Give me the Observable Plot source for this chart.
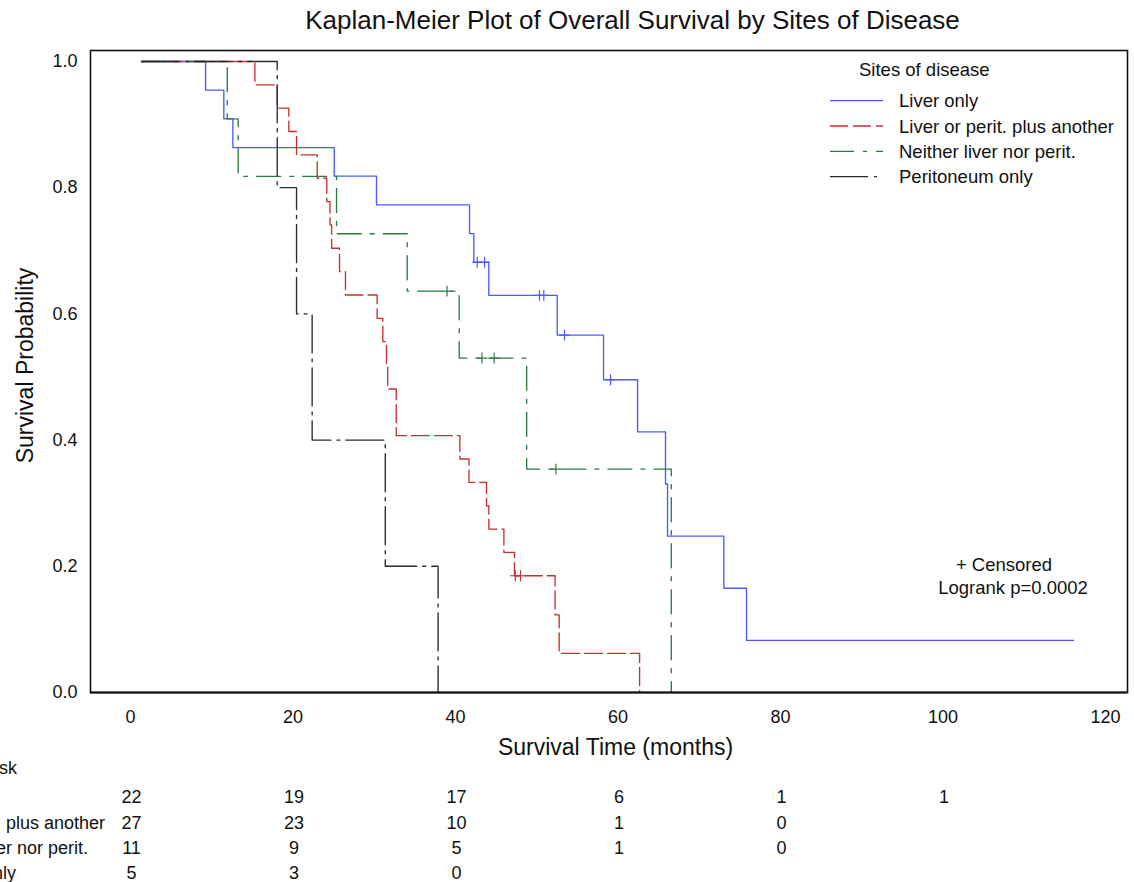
<!DOCTYPE html>
<html><head><meta charset="utf-8">
<script src="https://cdn.jsdelivr.net/npm/d3@7"></script>
<script src="https://cdn.jsdelivr.net/npm/@observablehq/plot@0.6"></script>
<style>
body{margin:0;background:#fff;}
#chart svg{font-family:"Liberation Sans",Arial,Helvetica,sans-serif;}
</style>
</head><body><div id="chart"></div>
<script>
// ---- data ----
const groups = ["Liver only", "Liver or perit. plus another", "Neither liver nor perit.", "Peritoneum only"];
const colors = ["#4a5cff", "#c4312f", "#2d7a45", "#2b2b2b"];
const dashes = ["none", "18,5", "24,9,4,9", "38,6,3,6"];

const liverTime = [0, 7.88, 10.13, 11.24, 23.72, 28.92, 40.37, 40.90, 42.74, 51.16, 56.86, 61.05, 64.49, 64.74, 71.67, 74.46, 114.7];
const liverSurv = [1, 0.9545, 0.9091, 0.8636, 0.8182, 0.7727, 0.7273, 0.6818, 0.6294, 0.5664, 0.4956, 0.4130, 0.3304, 0.2478, 0.1652, 0.0826, 0.0826];
const liverCensTime = [41.32, 42.22, 48.98, 49.51, 52.06, 57.72];
const liverCensSurv = [0.6818, 0.6818, 0.6294, 0.6294, 0.5664, 0.4956];

const plusTime = [0, 13.95, 16.7, 18.13, 19.08, 21.62, 22.8, 23.2, 23.4, 24.37, 25.1, 29.0, 29.7, 30.15, 30.3, 31.35, 39.18, 40.3, 42.46, 42.75, 44.6, 45.9, 50.9, 51.4, 61.3];
const plusSurv = [1, 0.963, 0.926, 0.889, 0.852, 0.815, 0.778, 0.741, 0.704, 0.667, 0.630, 0.593, 0.556, 0.519, 0.481, 0.407, 0.370, 0.333, 0.296, 0.259, 0.222, 0.185, 0.123, 0.062, 0];
const plusCensTime = [46.0, 46.65];
const plusCensSurv = [0.185, 0.185];

const neitherTime = [0, 10.55, 11.9, 24.0, 32.7, 39.1, 47.4, 65.2];
const neitherSurv = [1, 0.909, 0.818, 0.727, 0.636, 0.530, 0.354, 0];
const neitherCensTime = [37.6, 41.9, 43.4, 51.0];
const neitherCensSurv = [0.636, 0.530, 0.530, 0.354];

const peritTime = [0, 16.7, 19.08, 21.0, 30.0, 36.5];
const peritSurv = [1, 0.8, 0.6, 0.4, 0.2, 0];

const xTicks = [0, 20, 40, 60, 80, 100, 120];
const yTicks = [0, 0.2, 0.4, 0.6, 0.8, 1.0];

const riskTimes = [0, 20, 40, 60, 80, 100];
const riskLiver = [22, 19, 17, 6, 1, 1];
const riskPlus = [27, 23, 10, 1, 0];
const riskNeither = [11, 9, 5, 1, 0];
const riskPerit = [5, 3, 0];
const riskTitle = "Number at risk";

// ---- build tables ----
const series = [
  [liverTime, liverSurv], [plusTime, plusSurv], [neitherTime, neitherSurv], [peritTime, peritSurv]
].map(([t, s]) => t.map((v, i) => ({t: v, s: s[i]})));
const cens = [
  [liverCensTime, liverCensSurv], [plusCensTime, plusCensSurv], [neitherCensTime, neitherCensSurv], [[], []]
].map(([t, s]) => t.map((v, i) => ({t: v, s: s[i]})));
const riskRows = [riskLiver, riskPlus, riskNeither, riskPerit];

const labelShift = -11;
const marks = [];
series.forEach((d, i) => {
  marks.push(Plot.line(d, {x: "t", y: "s", curve: "step-after", stroke: colors[i], strokeWidth: 1.35,
    strokeDasharray: dashes[i] === "none" ? null : dashes[i]}));
});
cens.forEach((d, i) => {
  if (d.length) marks.push(Plot.dot(d, {x: "t", y: "s", symbol: "plus", r: 3.6, stroke: colors[i], strokeWidth: 1.2}));
});
riskRows.forEach((row, k) => {
  marks.push(Plot.text(row.map((v, i) => ({t: riskTimes[i], v})), {
    x: "t", text: "v", frameAnchor: "bottom", lineAnchor: "middle", dy: 105 + k * 25.3, dx: labelShift + 1, fontSize: 18, fill: "#111"
  }));
});

const chart = Plot.plot({
  width: 1134, height: 882,
  marginLeft: 90, marginRight: 7, marginTop: 50, marginBottom: 190,
  style: {fontFamily: "Liberation Sans, Arial, sans-serif", fontSize: "18px", color: "#111", background: "#fff"},
  x: {domain: [-6.28, 121.35]},
  y: {domain: [0, 1.0174]},
  marks: [
    Plot.axisY({ticks: yTicks, tickFormat: d3.format(".1f"), tickSize: 0, tickPadding: 13, fontSize: 18, label: null}),
    Plot.axisX({ticks: xTicks, tickSize: 0, tickPadding: 18, fontSize: 18, dx: labelShift, label: null}),
    ...marks,
    Plot.frame({stroke: "#111", strokeWidth: 1.6}),
    Plot.ruleY([0], {stroke: "#111", strokeWidth: 2.2}),
    Plot.text(["Kaplan-Meier Plot of Overall Survival by Sites of Disease"], {frameAnchor: "top", lineAnchor: "middle", dy: -30, dx: 23.5, fontSize: 26, fill: "#111"}),
    Plot.text(["Survival Probability"], {frameAnchor: "left", textAnchor: "middle", lineAnchor: "middle", rotate: -90, dx: -65, dy: -6, fontSize: 23, fill: "#111"}),
    Plot.text(["Survival Time (months)"], {frameAnchor: "bottom", lineAnchor: "middle", dy: 55, dx: 6.5, fontSize: 23, fill: "#111"})
  ]
});
document.getElementById("chart").appendChild(chart);

// ---- legend, notes, risk-table labels ----
const svg = d3.select(chart);
const lg = svg.append("g").attr("font-size", 18.5).attr("fill", "#111").attr("text-anchor", "start");
lg.append("text").attr("x", 859).attr("y", 76).text("Sites of disease");
groups.forEach((g, i) => {
  const y = 100.7 + i * 25.3;
  lg.append("line").attr("x1", 830).attr("x2", 883).attr("y1", y).attr("y2", y)
    .attr("stroke", colors[i]).attr("stroke-width", 1.3)
    .attr("stroke-dasharray", dashes[i] === "none" ? null : dashes[i]);
  lg.append("text").attr("x", 899).attr("y", y + 6.5).text(g);
});
lg.append("text").attr("x", 1004).attr("y", 571).attr("text-anchor", "middle").text("+ Censored");
lg.append("text").attr("x", 1013).attr("y", 594).attr("text-anchor", "middle").text("Logrank p=0.0002");

// risk-table row labels (the reference shows them running off the left edge)
const rt = svg.append("g").attr("font-size", 18).attr("fill", "#111").attr("text-anchor", "end");
rt.append("text").attr("x", 17).attr("y", 774).text(riskTitle);
const labelEnds = [-3, 105, 88, 16];
groups.forEach((g, k) => {
  rt.append("text").attr("x", labelEnds[k]).attr("y", 803.5 + k * 25.3).text(g);
});
</script>
</body></html>
